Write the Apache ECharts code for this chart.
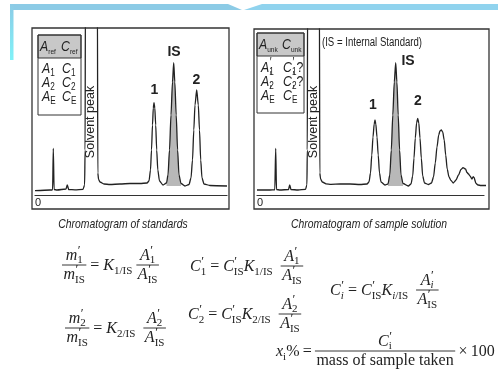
<!DOCTYPE html>
<html>
<head>
<meta charset="utf-8">
<script src="https://cdn.jsdelivr.net/npm/echarts@6/dist/echarts.min.js"></script>
<style>
  html, body { margin: 0; background: #fff; }
  #chart { width: 498px; height: 375px; }
</style>
</head>
<body>
<div id="chart"></div>
<script>
// chromatogram of standards: retention position and detector signal
const stdTime = [0, 15, 17, 17.6, 18.3, 19.1, 22, 31, 32.3, 33.7, 40, 48, 49.6, 50.1, 50.4, 56, 62.4, 62.8, 63.6, 65, 69, 75, 85, 95, 105, 112,
  114, 115.5, 116.5, 117.5, 118.3, 119, 119.8, 120.7, 121.7, 122.8, 124.5, 128,
  131.5, 133, 134.5, 136, 137.5, 138.7, 139.8, 141.2, 142.6, 144, 146, 150,
  154, 156, 157.5, 158.8, 160, 161.7, 163.3, 164.5, 165.7, 167, 169, 175, 192];
const stdSignal = [4.3, 5, 5, 5.5, 46.7, 5.5, 5, 6, 10, 5.5, 5.2, 5.7, 10, 45, 200, 200, 200, 22, 15.5, 13, 11, 10.5, 11, 11.5, 11.5, 12,
  14, 25, 45, 70, 87, 92.3, 87, 70, 45, 25, 14, 10,
  12, 20, 45, 80, 113, 132.3, 113, 80, 45, 20, 11.5, 9,
  10.5, 17, 35, 65, 90, 105, 90, 65, 35, 17, 11, 9.5, 9];

// chromatogram of the sample solution
const smpTime = [0, 13, 17.8, 18.7, 19.5, 23, 31.5, 32.7, 34, 41, 48.5, 49.9, 50.3, 50.6, 56, 62.4, 62.8, 63.6, 65.3, 69, 74, 83, 93, 103, 110,
  112, 113.5, 114.8, 116, 117.2, 118, 118.8, 120, 121.2, 122.5, 124, 128,
  131, 132.8, 134.3, 135.8, 137.3, 138.7, 139.9, 141.2, 142.6, 144, 146, 151.3,
  154, 155.7, 157, 158.3, 159.6, 160.7, 161.8, 163, 164.3, 165.7, 167.5, 171.3,
  174.5, 176.5, 178.3, 180, 181.7, 183, 184.3, 185.7, 187.2, 188.7, 190.2, 192, 194, 196.3,
  199, 201.5, 204, 206, 208.5, 210, 211.5, 213, 215, 216.2, 217, 219, 221, 224, 232];
const smpSignal = [5, 5, 5.2, 46.7, 5.5, 5, 5.5, 10, 5.5, 5, 5.7, 10, 45, 200, 200, 200, 22, 16, 13, 11.2, 10.7, 11, 11, 10.5, 11,
  13, 22, 40, 58, 71, 75, 71, 58, 40, 22, 13, 10,
  11, 20, 45, 80, 113, 132.3, 113, 80, 45, 20, 11.5, 9,
  11, 19, 37, 57, 72, 76.7, 72, 57, 37, 19, 12, 10.5,
  12, 18, 32, 48, 60, 64, 65, 63, 55, 40, 26, 18, 14.5, 12,
  15, 20, 25.5, 27.3, 26, 22.5, 21, 19, 16, 18.3, 17.5, 11.5, 10, 9.5, 9.5];

const peakNames = ['1', 'IS', '2'];
const isWindow = [131, 146.5];      // internal standard peak, shaded
const baseLevel = 9;                // signal under the IS peak

const INK = '#222';
const ctx = document.createElement('canvas').getContext('2d');
function tw(t, font) { ctx.font = font; return ctx.measureText(t).width; }

function txt(t, x, y, font, sx, extra) {
  return Object.assign({
    type: 'text', x: x, y: y, scaleX: sx || 1, z: 20, silent: true,
    style: { text: t, font: font, fill: INK, align: 'left', verticalAlign: 'middle' }
  }, extra || {});
}

// tokens: main glyph, optional prime, optional subscript pieces [[text, italic], ...]
const I = (t, s, p) => ({ t: t, i: 1, p: p, s: s == null ? null : (typeof s === 'string' ? [[s, 0]] : s) });
const R = t => ({ t: t });
const P = 1;

function run(tokens, x, cy, o, out) {
  const sx = o.sx || 1, fs = o.fs, ss = o.ss;
  for (const k of tokens) {
    if (k.t) {
      const mf = (k.i ? 'italic ' : '') + fs + 'px ' + o.fam;
      out.push(txt(k.t, x, cy, mf, sx));
      x += tw(k.t, mf) * sx;
    }
    let adv = 0;
    if (k.p) {
      const pf = Math.round(fs * 0.8) + 'px ' + o.fam;
      out.push(txt('′', x + 0.5, cy - fs * 0.34, pf, sx));
      adv = tw('′', pf) * sx + 0.5;
    }
    if (k.s) {
      let px = x;
      for (const [s, it] of k.s) {
        const sf = (it ? 'italic ' : '') + ss + 'px ' + o.fam;
        out.push(txt(s, px, cy + fs * 0.3, sf, sx));
        px += tw(s, sf) * sx;
      }
      adv = Math.max(adv, px - x);
    }
    x += adv;
  }
  return x;
}

function frac(num, den, x, cy, o, out) {
  const wn = run(num, 0, 0, o, []), wd = run(den, 0, 0, o, []);
  const W = Math.max(wn, wd) + 3;
  run(num, x + (W - wn) / 2, cy - o.fs * 0.58, o, out);
  run(den, x + (W - wd) / 2, cy + o.fs * 0.62, o, out);
  out.push({ type: 'line', z: 20, silent: true, shape: { x1: x, y1: cy, x2: x + W, y2: cy }, style: { stroke: INK, lineWidth: 0.9 } });
  return x + W;
}

function eq(x, cy, segs, o, out) {
  for (const s of segs) {
    if (Array.isArray(s)) x = run(s, x, cy + 1, o, out);
    else x = frac(s.num, s.den, x, cy, o, out);
  }
}

const serif = { fam: '"Liberation Serif", serif', fs: 16, ss: 11 };
const sans = { fam: '"Liberation Sans", sans-serif', fs: 15, ss: 10, sx: 0.82 };
const head = { fam: '"Liberation Sans", sans-serif', fs: 15, ss: 8, sx: 0.82 };
const g = [];

// slide decoration
g.push({ type: 'polygon', shape: { points: [[10, 4], [228, 4], [242, 10], [10, 10]] }, style: { fill: '#8ccbe6' } });
g.push({ type: 'polygon', shape: { points: [[244, 10], [262, 4], [498, 4], [498, 10]] }, style: { fill: '#90d3ee' } });
g.push({ type: 'rect', shape: { x: 10, y: 4, width: 3.5, height: 56 },
  style: { fill: new echarts.graphic.LinearGradient(0, 0, 0, 1, [{ offset: 0, color: '#8ccbe6' }, { offset: 1, color: '#80f2f8' }]) } });

// chart frames
g.push({ type: 'rect', z: 5, shape: { x: 32, y: 28, width: 197, height: 181 }, style: { fill: 'none', stroke: '#333', lineWidth: 1.3 } });
g.push({ type: 'rect', z: 5, shape: { x: 254, y: 29, width: 235, height: 180 }, style: { fill: 'none', stroke: '#333', lineWidth: 1.3 } });

// legend tables
g.push({ type: 'rect', z: 6, shape: { x: 38, y: 35, width: 43, height: 23 }, style: { fill: '#c8c8c8', stroke: '#333', lineWidth: 1 } });
g.push({ type: 'rect', z: 6, shape: { x: 38, y: 35, width: 43, height: 80 }, style: { fill: 'none', stroke: '#333', lineWidth: 1 } });
g.push({ type: 'rect', z: 6, shape: { x: 257, y: 33, width: 47, height: 23 }, style: { fill: '#c8c8c8', stroke: '#333', lineWidth: 1 } });
g.push({ type: 'rect', z: 6, shape: { x: 257, y: 33, width: 47, height: 80 }, style: { fill: 'none', stroke: '#333', lineWidth: 1 } });

run([I('A', 'ref')], 40, 47, head, g); run([I('C', 'ref')], 61, 47, head, g);
run([I('A', '1')], 42, 69, sans, g); run([I('C', '1')], 62, 69, sans, g);
run([I('A', '2')], 42, 83, sans, g); run([I('C', '2')], 62, 83, sans, g);
run([I('A', 'E')], 42, 97, sans, g); run([I('C', 'E')], 62, 97, sans, g);
run([I('A', 'unk')], 259, 45, head, g); run([I('C', 'unk')], 282, 45, head, g);
run([I('A', '1', P)], 261, 68, sans, g); run([I('C', '1', P), R('?')], 283, 68, sans, g);
run([I('A', '2', P)], 261, 82, sans, g); run([I('C', '2', P), R('?')], 283, 82, sans, g);
run([I('A', 'E', P)], 261, 96, sans, g); run([I('C', 'E', P)], 283, 96, sans, g);

// chart texts
const solvent = x => ({ type: 'text', x: x, y: 122, z: 20, rotation: Math.PI / 2, silent: true,
  style: { text: 'Solvent peak', font: '12.5px "Liberation Sans", sans-serif', fill: INK, align: 'center', verticalAlign: 'middle' } });
g.push(solvent(91), solvent(313.5));
g.push(txt('(IS = Internal Standard)', 322, 43, '12px "Liberation Sans", sans-serif', 0.8));
const centred = (t, x, y, font, sx) => txt(t, x, y, font, sx, { style: { text: t, font: font, fill: INK, align: 'center', verticalAlign: 'middle' } });
const pk = 'bold 14px "Liberation Sans", sans-serif';
[[154.5, 90], [174, 52], [196.5, 80]].forEach((p, i) => g.push(centred(peakNames[i], p[0], p[1], pk, 1)));
[[373, 105], [408, 61], [418, 101]].forEach((p, i) => g.push(centred(peakNames[i], p[0], p[1], pk, 1)));
const cap = 'italic 13px "Liberation Sans", sans-serif';
g.push(centred('Chromatogram of standards', 123, 224, cap, 0.8));
g.push(centred('Chromatogram of sample solution', 369, 224, cap, 0.8));

// equations
const fracA = n => ({ num: [I('A', n, P)], den: [I('A', 'IS', P)] });
eq(62, 265, [{ num: [I('m', '1', P)], den: [I('m', 'IS', P)] }, [R(' = '), I('K', '1/IS'), R(' ')], fracA('1')], serif, g);
eq(65, 328, [{ num: [I('m', '2', P)], den: [I('m', 'IS', P)] }, [R(' = '), I('K', '2/IS'), R('  ')], fracA('2')], serif, g);
eq(190, 266, [[I('C', '1', P), R(' = '), I('C', 'IS', P), I('K', '1/IS'), R('  ')], fracA('1')], serif, g);
eq(188, 314, [[I('C', '2', P), R(' = '), I('C', 'IS', P), I('K', '2/IS'), R('  ')], fracA('2')], serif, g);
eq(330, 290, [[I('C', [['i', 1]], P), R(' = '), I('C', 'IS', P), I('K', [['i', 1], ['/IS', 0]]), R('  ')],
  { num: [I('A', [['i', 1]], P)], den: [I('A', 'IS', P)] }], serif, g);
eq(276, 351, [[I('x', 'i'), R('%\u2009=\u2009')], { num: [I('C', 'i', P)], den: [R('mass of sample taken')] }, [R('\u2009×\u2009100')]], serif, g);

const zip = (xs, ys) => xs.map((x, i) => [x, ys[i]]);
const std = zip(stdTime, stdSignal), smp = zip(smpTime, smpSignal);
const inIS = p => p[0] >= isWindow[0] && p[0] <= isWindow[1];

const axisX = (gi, max) => ({
  gridIndex: gi, type: 'value', min: 0, max: max, interval: max,
  axisLine: { show: true, lineStyle: { color: '#333', width: 1.2 } },
  axisTick: { show: false }, splitLine: { show: false },
  axisLabel: { formatter: v => (v === 0 ? '0' : ''), color: INK, fontSize: 11, margin: 2, align: 'left',
    fontFamily: 'Liberation Sans' }
});
const axisY = (gi, max) => ({ gridIndex: gi, type: 'value', min: 0, max: max, show: false });

const trace = (gi, data) => ({
  type: 'line', xAxisIndex: gi, yAxisIndex: gi, data: data, showSymbol: false, smooth: 0.25,
  smoothMonotone: 'x', lineStyle: { color: '#222', width: 1.3 }, z: 3, silent: true
});
const shade = (gi, data) => ({
  type: 'line', xAxisIndex: gi, yAxisIndex: gi, data: data, showSymbol: false, smooth: 0.25,
  smoothMonotone: 'x', lineStyle: { width: 0 }, areaStyle: { color: '#b8b8b8', opacity: 1, origin: baseLevel }, z: 2, silent: true
});

const chart = echarts.init(document.getElementById('chart'));
chart.setOption({
  animation: false,
  backgroundColor: '#fff',
  grid: [
    { left: 35, top: 28, width: 192, height: 167 },
    { left: 257, top: 29, width: 227, height: 166 }
  ],
  xAxis: [axisX(0, 192), axisX(1, 227)],
  yAxis: [axisY(0, 167), axisY(1, 166)],
  series: [
    shade(0, std.filter(inIS)), trace(0, std),
    shade(1, smp.filter(inIS)), trace(1, smp)
  ],
  graphic: g
});
</script>
</body>
</html>
